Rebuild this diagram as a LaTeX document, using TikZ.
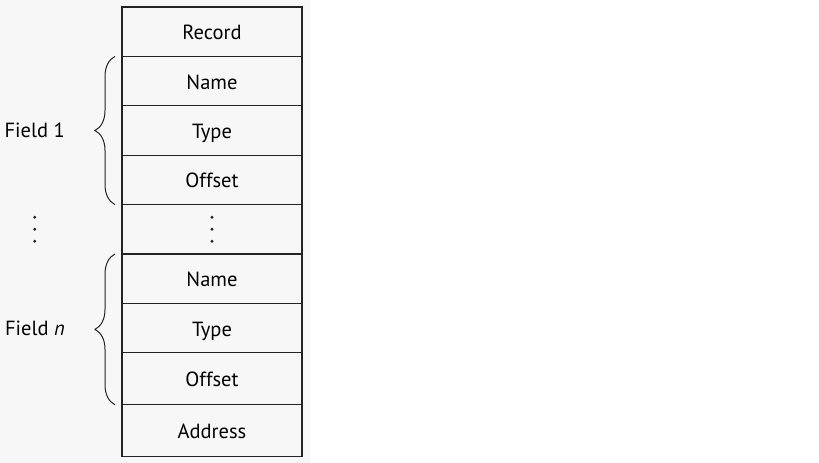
\documentclass[tikz,border=0pt]{standalone}
\usepackage{fontspec}
\setmainfont{PT Sans}
\usepackage{tikz}
\usetikzlibrary{positioning}
\usetikzlibrary{calc}
\usetikzlibrary{decorations.pathreplacing}

\definecolor{panelgray}{RGB}{247,247,247}
\definecolor{linegray}{RGB}{35,35,35}

\begin{document}
\begin{tikzpicture}[x=1pt,y=-1pt,font=\fontsize{20.5}{24}\selectfont,
		cell/.style={draw=linegray,line width=1.3pt,rectangle,minimum width=180pt,minimum height=49.4pt,inner sep=0pt,outer sep=0pt,text height=20pt,text depth=4pt},
		fieldbrace/.style={draw=linegray,line width=1pt,decorate,decoration={brace,amplitude=20pt,aspect=0.5}},
		dot/.style={fill=linegray,circle,inner sep=0pt,minimum size=3.2pt}]

		\useasboundingbox (0,0) rectangle (819,463);
		\fill[panelgray] (0,0) rectangle (310,463);

		\node[cell,anchor=north west] at (122,7) (rec) {Record};
		\node[cell,below = 0pt of rec] (name1) {Name};
		\node[cell,below = 0pt of name1] (type1) {Type};
		\node[cell,below = 0pt of type1] (off1) {Offset};
		\node[cell,below = 0pt of off1] (dots) {};
		\node[cell,below = 0pt of dots] (namen) {Name};
		\node[cell,below = 0pt of namen] (typen) {Type};
		\node[cell,below = 0pt of typen,minimum height=52pt] (offn) {Offset};
		\node[cell,below = 0pt of offn,minimum height=52pt] (addr) {Address};

		\node[left = 57pt of type1,inner sep=0pt] (f1) {Field 1};
		\node[left = 57pt of typen,inner sep=0pt] (fn) {Field \textit{n}};

		% vertical dots
		\foreach \dy in {-12,0,12} {
			\node[dot] at ($(dots.center)+(0,\dy)$) {};
			\node[dot] at ($(dots.center -| f1.center)+(0,\dy)$) {};
		}

		\draw[fieldbrace] ([xshift=-7pt]off1.south west) -- ([xshift=-7pt]name1.north west);
		\draw[fieldbrace] ([xshift=-7pt]offn.south west) -- ([xshift=-7pt]namen.north west);
	\end{tikzpicture}
\end{document}
